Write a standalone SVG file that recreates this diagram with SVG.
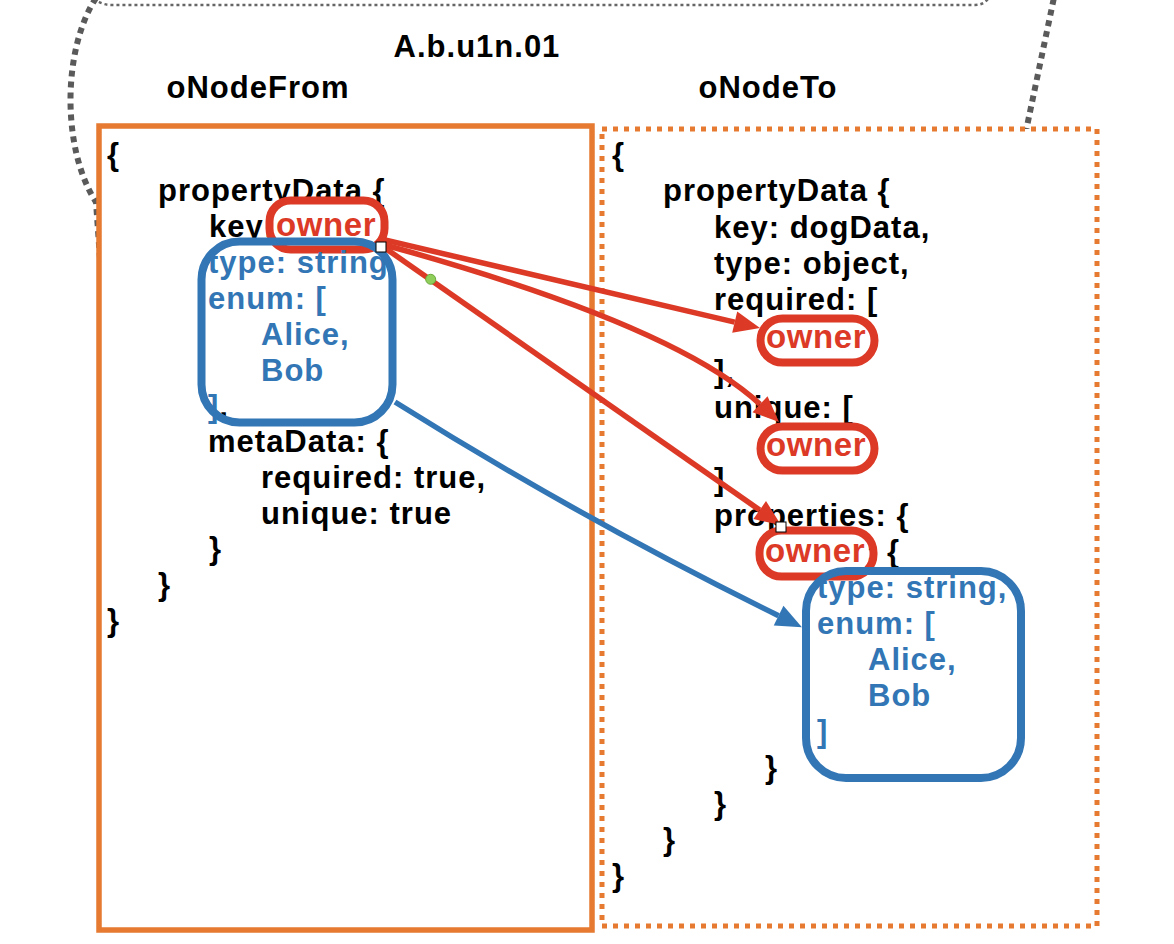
<svg xmlns="http://www.w3.org/2000/svg" width="1174" height="944" viewBox="0 0 1174 944">
<style>
text{font-family:"Liberation Sans",Arial,Helvetica,sans-serif;font-weight:bold;font-size:31px;letter-spacing:1px;fill:#000}
.blue{fill:#3276b5}
.red{fill:#dc3a26;font-size:33px;letter-spacing:0.6px}
.title{text-anchor:middle}
.rbox{fill:none;stroke:#dc3a26;stroke-width:8}
.bbox{fill:none;stroke:#3276b5;stroke-width:8}
.rl{fill:none;stroke:#dc3a26;stroke-width:5.5}
.bl{fill:none;stroke:#3276b5;stroke-width:5.5}
</style>
<defs>
<marker id="ar" markerUnits="userSpaceOnUse" markerWidth="27" markerHeight="24" refX="0" refY="11" orient="auto" overflow="visible"><path d="M0,0 L26,11 L0,22 z" fill="#dc3a26"/></marker>
<marker id="ab" markerUnits="userSpaceOnUse" markerWidth="27" markerHeight="24" refX="0" refY="11" orient="auto" overflow="visible"><path d="M0,0 L26,11 L0,22 z" fill="#3276b5"/></marker>
</defs>
<rect width="1174" height="944" fill="#fff"/>
<g id="container">
<path d="M96,-2 C62,50 62,150 96,202 L110,400 M1056,-12 L1022,150" fill="none" stroke="#5a5a5a" stroke-width="6" stroke-dasharray="6 5"/>
<path d="M90,-6 Q98,5 112,5 L975,5 Q986,5 991,-6" fill="none" stroke="#666" stroke-width="2.5" stroke-dasharray="3 3"/>
<text class="title" x="477" y="57">A.b.u1n.01</text>
</g>
<g id="oNodeFrom">
<text class="title" x="258" y="98">oNodeFrom</text>
<rect x="99" y="126" width="493" height="804" fill="#fff" stroke="#e67a30" stroke-width="5.5"/>
<text x="107" y="165">{</text>
<text x="158" y="201">propertyData {</text>
<text x="209" y="237">key:</text>
<rect class="rbox" x="269.5" y="200.5" width="115" height="49" rx="21"/>
<text class="red" x="276" y="236">owner</text>
<text class="blue" x="208" y="273">type: string</text>
<text class="blue" x="208" y="309">enum: [</text>
<text class="blue" x="261" y="345">Alice,</text>
<text class="blue" x="261" y="381">Bob</text>
<text x="208" y="417"><tspan class="blue">]</tspan>,</text>
<rect class="bbox" x="201.5" y="241.5" width="191" height="181" rx="38"/>
<text x="208" y="452">metaData: {</text>
<text x="261" y="488">required: true,</text>
<text x="261" y="524">unique: true</text>
<text x="209" y="559">}</text>
<text x="158" y="595">}</text>
<text x="107" y="631">}</text>
</g>
<g id="oNodeTo">
<text class="title" x="768" y="98">oNodeTo</text>
<rect x="602" y="129" width="495" height="797" fill="#fff" stroke="#e67a30" stroke-width="5" stroke-dasharray="5 6"/>
<text x="612" y="165">{</text>
<text x="663" y="201">propertyData {</text>
<text x="714" y="238">key: dogData,</text>
<text x="714" y="274">type: object,</text>
<text x="714" y="310">required: [</text>
<rect class="rbox" x="760.5" y="318.5" width="114" height="44" rx="22"/>
<text class="red" x="766" y="348">owner</text>
<text x="714" y="382">],</text>
<text x="714" y="418">unique: [</text>
<rect class="rbox" x="760.5" y="426.5" width="114" height="44" rx="22"/>
<text class="red" x="766" y="456">owner</text>
<text x="714" y="490">]</text>
<text x="714" y="526">properties: {</text>
<text x="866" y="562">: {</text>
<rect class="rbox" x="759.5" y="530.5" width="114" height="46" rx="22"/>
<text class="red" x="765" y="562">owner</text>
<rect class="bbox" x="806" y="571" width="215" height="207" rx="40"/>
<text class="blue" x="817" y="598">type: string,</text>
<text class="blue" x="817" y="634">enum: [</text>
<text class="blue" x="868" y="670">Alice,</text>
<text class="blue" x="868" y="706">Bob</text>
<text class="blue" x="817" y="742">]</text>
<text x="765" y="778">}</text>
<text x="714" y="814">}</text>
<text x="663" y="850">}</text>
<text x="612" y="886">}</text>
</g>
<g id="connectors">
<path class="rl" d="M385,240 L734.7,322.1" marker-end="url(#ar)"/>
<path class="rl" d="M385,245 Q675,325 760,404.3" marker-end="url(#ar)"/>
<path class="rl" d="M385,248 L759.7,510.1" marker-end="url(#ar)"/>
<path class="bl" d="M395,402 Q580,518 778.6,615.7" marker-end="url(#ab)"/>
<rect x="376" y="242" width="10" height="10" fill="#fff" stroke="#000" stroke-width="1"/>
<rect x="776" y="522" width="10" height="10" fill="#fff" stroke="#000" stroke-width="1"/>
<circle cx="430.7" cy="279.3" r="5" fill="#8fce5a" stroke="#6aa83c" stroke-width="1"/>
</g>
</svg>
